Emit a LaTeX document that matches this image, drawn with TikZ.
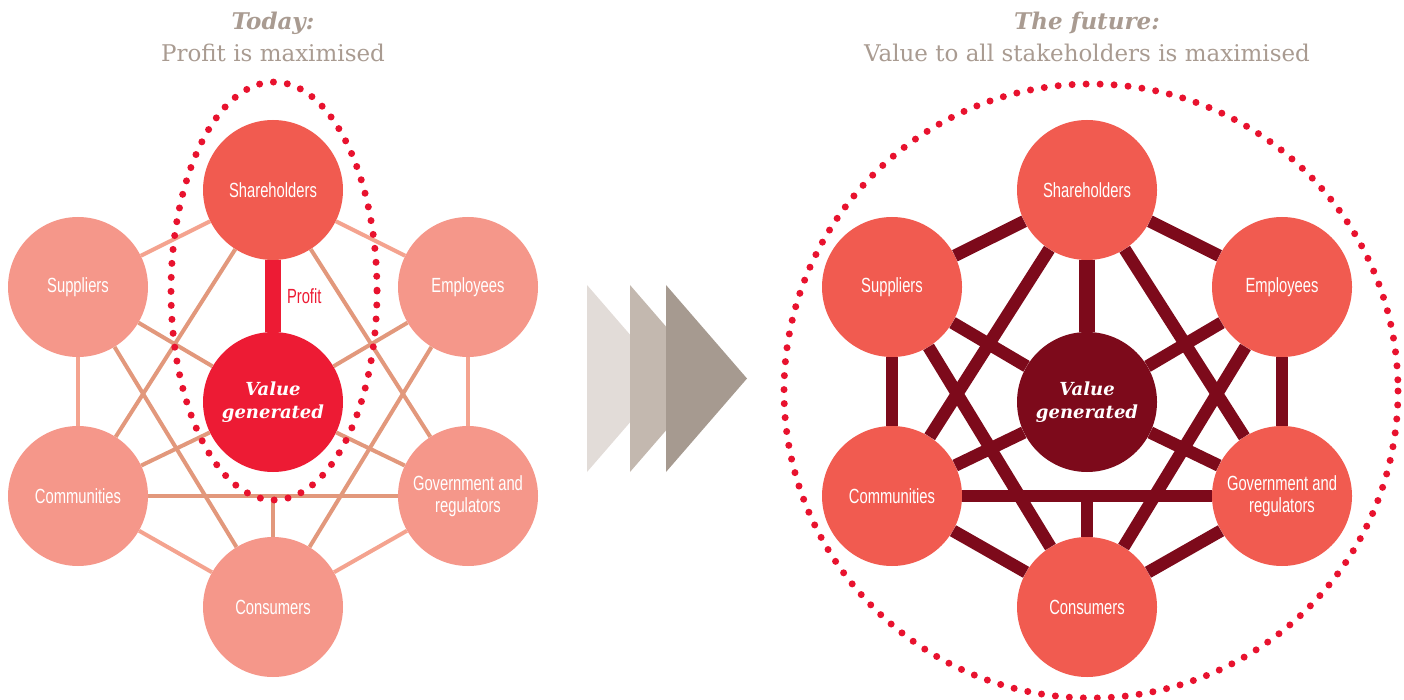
\documentclass[tikz,border=0pt]{standalone}
\usepackage{fontspec}
\setmainfont{DejaVu Serif}
\newfontfamily\condsans[FakeStretch=0.72]{Liberation Sans}

\definecolor{stakered}{HTML}{F15B50}
\definecolor{stakepale}{HTML}{F5978A}
\definecolor{profitred}{HTML}{ED1B34}
\definecolor{dotred}{HTML}{E8122E}
\definecolor{linkpale}{HTML}{F4A38F}
\definecolor{linktan}{HTML}{E2987C}
\definecolor{deepmaroon}{HTML}{7D0A1B}
\definecolor{titlegrey}{HTML}{A99B91}
\definecolor{chevA}{HTML}{E2DCD8}
\definecolor{chevB}{HTML}{C3B8AF}
\definecolor{chevC}{HTML}{A69A90}

\tikzset{
    stake/.style={circle, minimum size=140pt, inner sep=0pt, text=white, align=center,
        font=\condsans\fontsize{20.5}{22}\selectfont},
    core/.style={circle, minimum size=140pt, inner sep=0pt, text=white, align=center,
        font=\fontsize{18}{23}\selectfont\bfseries\itshape},
    heading/.style={text=titlegrey, align=center, font=\fontsize{23}{32}\selectfont},
    dots/.style={dotred, line width=7pt, line cap=round, dash pattern=on 0pt off 14pt},
}

% #1 prefix, #2 x of centre, #3 fill of shareholders, #4 fill of the others, #5 fill of centre
\newcommand\stakeholders[5]{
    \node[stake, fill=#3] (#1sh) at (#2,190) {Shareholders};
    \node[stake, fill=#4] (#1sup) at ({#2-195},287) {Suppliers};
    \node[stake, fill=#4] (#1emp) at ({#2+195},287) {Employees};
    \node[stake, fill=#4] (#1com) at ({#2-195},496) {Communities};
    \node[stake, fill=#4] (#1gov) at ({#2+195},496) {Government and\\regulators};
    \node[stake, fill=#4] (#1con) at (#2,607) {Consumers};
    \node[core, fill=#5] (#1val) at (#2,402) {Value\\generated};
}
% #1 prefix, #2 ring style, #3 inner style
\newcommand\weblinks[3]{
    % round the ring
    \draw[#2] (#1sh) -- (#1sup);
    \draw[#2] (#1sh) -- (#1emp);
    \draw[#2] (#1sup) -- (#1com);
    \draw[#2] (#1emp) -- (#1gov);
    \draw[#2] (#1com) -- (#1con);
    \draw[#2] (#1gov) -- (#1con);
    % across the ring
    \draw[#3] (#1sh) -- (#1com);
    \draw[#3] (#1sh) -- (#1gov);
    \draw[#3] (#1sup) -- (#1con);
    \draw[#3] (#1emp) -- (#1con);
    \draw[#3] (#1com) -- (#1gov);
    % to the centre
    \draw[#3] (#1sup) -- (#1val);
    \draw[#3] (#1emp) -- (#1val);
    \draw[#3] (#1com) -- (#1val);
    \draw[#3] (#1gov) -- (#1val);
    \draw[#3] (#1con) -- (#1con |- #1com);
}
\newcommand\chevron[2]{\fill[#2] (#1,285) -- ({#1+81},378.5) -- (#1,472) -- cycle; }

\begin{document}
\begin{tikzpicture}[x=1pt, y=-1pt]
    \useasboundingbox (0,0) rectangle (1404,700);

    % titles
    \node[heading] (lefttitle) at (273,37) {\textbf{\textit{Today:}}\\Profit is maximised};
    \node[heading] (righttitle) at (1087,37) {\textbf{\textit{The future:}}\\Value to all stakeholders is maximised};

    % today
    \stakeholders{l}{273}{stakered}{stakepale}{profitred}
    \weblinks{l}{linkpale, line width=4pt}{linktan, line width=4pt}
    \draw[profitred, line width=16pt] (lsh) -- (lval)
        node[pos=0.5, right=6pt, inner sep=0pt, font=\condsans\fontsize{20.5}{22}\selectfont] (profit) {Profit};
    \draw[dots] (274,291) ellipse [x radius=103, y radius=209];

    % arrows
    \chevron{587}{chevA}
    \chevron{630}{chevB}
    \chevron{666}{chevC}

    % the future
    \stakeholders{r}{1087}{stakered}{stakered}{deepmaroon}
    \weblinks{r}{deepmaroon, line width=12.5pt}{deepmaroon, line width=12.5pt}
    \draw[deepmaroon, line width=16pt] (rsh) -- (rval);
    \draw[dots] (1091,391) circle [radius=307];
\end{tikzpicture}
\end{document}
